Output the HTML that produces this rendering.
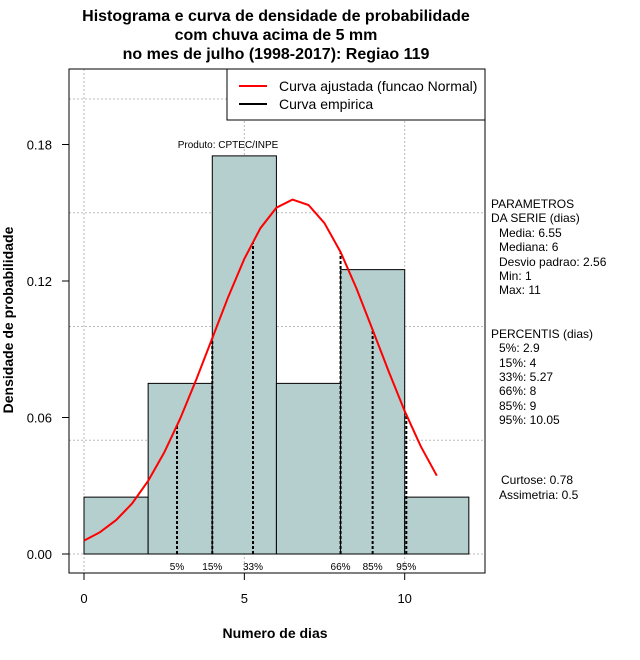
<!DOCTYPE html>
<html><head><meta charset="utf-8"><style>
body{margin:0;background:#fff}
svg{display:block;font-family:"Liberation Sans",sans-serif}
</style></head><body>
<svg id="c" width="640" height="660" viewBox="0 0 640 660">
<g font-weight="bold" font-size="16" text-anchor="middle">
<text x="276" y="21">Histograma e curva de densidade de probabilidade</text>
<text x="276" y="40">com chuva acima de 5 mm</text>
<text x="276" y="59">no mes de julho (1998-2017): Regiao 119</text>
</g>
<g id="grid"></g>
<g id="bars"></g>
<g id="pct"></g>
<path id="curve" fill="none" stroke="#f00" stroke-width="2"/>
<rect x="69" y="69" width="416" height="504" fill="none" stroke="#000"/>
<g id="axes" font-size="13"></g>
<text x="275" y="638" font-size="14" font-weight="bold" text-anchor="middle">Numero de dias</text>
<text transform="translate(13,320) rotate(-90)" font-size="14" font-weight="bold" text-anchor="middle">Densidade de probabilidade</text>
<text x="228" y="148" font-size="10" text-anchor="middle">Produto: CPTEC/INPE</text>
<g>
<rect x="227" y="69" width="258" height="51" fill="#fff" stroke="#000"/>
<line x1="239" y1="86" x2="267" y2="86" stroke="#f00" stroke-width="2"/>
<line x1="239" y1="104" x2="267" y2="104" stroke="#000" stroke-width="2"/>
<text x="279" y="91" font-size="14">Curva ajustada (funcao Normal)</text>
<text x="279" y="109" font-size="14">Curva empirica</text>
</g>
<g font-size="12">
<text x="491" y="208">PARAMETROS</text>
<text x="491" y="222">DA SERIE (dias)</text>
<text x="499" y="237">Media: 6.55</text>
<text x="499" y="251">Mediana: 6</text>
<text x="499" y="266">Desvio padrao: 2.56</text>
<text x="499" y="280">Min: 1</text>
<text x="499" y="294">Max: 11</text>
<text x="491" y="338">PERCENTIS (dias)</text>
<text x="499" y="352">5%: 2.9</text>
<text x="499" y="367">15%: 4</text>
<text x="499" y="381">33%: 5.27</text>
<text x="499" y="395">66%: 8</text>
<text x="499" y="410">85%: 9</text>
<text x="499" y="424">95%: 10.05</text>
<text x="501" y="484">Curtose: 0.78</text>
<text x="499" y="499">Assimetria: 0.5</text>
</g>
</svg>
<script>
const binStarts=[0,2,4,6,8,10];
const binDensity=[0.025,0.075,0.175,0.075,0.125,0.025];
const curveX=[0,0.5,1,1.5,2,2.5,3,3.5,4,4.5,5,5.5,6,6.5,7,7.5,8,8.5,9,9.5,10,10.5,11];
const curveY=[0.0059,0.0096,0.0149,0.0222,0.0321,0.0446,0.0595,0.0766,0.0949,0.1131,0.1297,0.1432,0.1522,0.1558,0.1534,0.1454,0.1327,0.1166,0.0986,0.0802,0.0628,0.0474,0.0344];
const pctLabels=["5%","15%","33%","66%","85%","95%"];
const pctValues=[2.9,4,5.27,8,9,10.05];
const xTicks=[0,5,10];
const yTicks=["0.00","0.06","0.12","0.18"];
const gridY=[0,0.05,0.1,0.15,0.2];
const NS="http://www.w3.org/2000/svg";
const X=v=>84+v*32.07, Y=v=>554-v*2275;
function el(t,a,p){const e=document.createElementNS(NS,t);for(const k in a)e.setAttribute(k,a[k]);document.getElementById(p).appendChild(e);return e;}
function pdfAt(x){for(let i=0;i<curveX.length-1;i++){if(x>=curveX[i]&&x<=curveX[i+1]){const t=(x-curveX[i])/(curveX[i+1]-curveX[i]);return curveY[i]+t*(curveY[i+1]-curveY[i]);}}return curveY[curveY.length-1];}
gridY.forEach(g=>{const l=el('line',{x1:69,x2:485,y1:Y(g),y2:Y(g),stroke:'#bbb','stroke-dasharray':'2,2'},'grid');

});
xTicks.forEach(t=>{const l=el('line',{x1:X(t),x2:X(t),y1:69,y2:573,stroke:'#bbb','stroke-dasharray':'2,2'},'grid');

});
binStarts.forEach((b,i)=>{const r=el('rect',{x:X(b),y:Y(binDensity[i]),width:X(b+2)-X(b),height:Y(0)-Y(binDensity[i]),fill:'#b5cece',stroke:'#000'},'bars');

});
el('line',{x1:X(0),x2:X(12),y1:Y(0),y2:Y(0),stroke:'#000','stroke-dasharray':'1,2'},'bars');
pctValues.forEach((p,i)=>{const l=el('line',{x1:X(p),x2:X(p),y1:Y(0),y2:Y(pdfAt(p)),stroke:'#000','stroke-width':2,'stroke-dasharray':'3,2'},'pct');


const t=el('text',{x:X(p),y:570,'font-size':10,'text-anchor':'middle'},'pct');t.textContent=pctLabels[i];

});
document.getElementById('curve').setAttribute('d',curveX.map((x,i)=>(i?'L':'M')+X(x).toFixed(1)+','+Y(curveY[i]).toFixed(1)).join(' '));
el('line',{x1:X(0),x2:X(10),y1:573,y2:573,stroke:'#000'},'axes');
xTicks.forEach(t=>{el('line',{x1:X(t),x2:X(t),y1:573,y2:580,stroke:'#000'},'axes');
const s=el('text',{x:X(t),y:603,'text-anchor':'middle'},'axes');s.textContent=t;

});
yTicks.forEach(t=>{const v=parseFloat(t);el('line',{x1:62,x2:69,y1:Y(v),y2:Y(v),stroke:'#000'},'axes');
const s=el('text',{x:52,y:Y(v)+5,'text-anchor':'end'},'axes');s.textContent=t;

});
</script>
</body></html>
